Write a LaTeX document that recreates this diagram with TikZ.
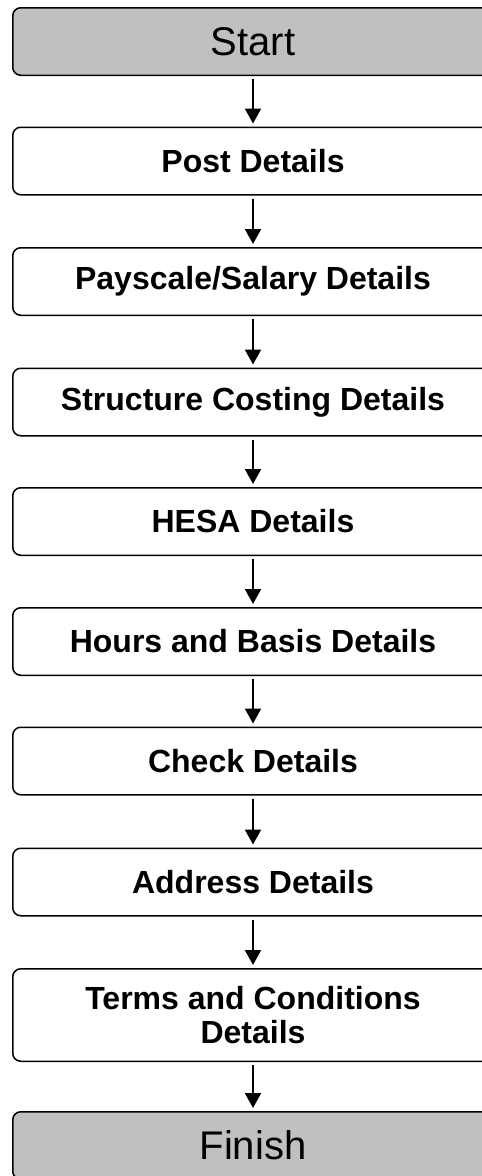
\documentclass[tikz,border=0pt]{standalone}
\usepackage{fontspec}
\setmainfont{Liberation Sans}
\usetikzlibrary{arrows.meta}

\definecolor{endgray}{HTML}{C0C0C0}

\tikzset{
  stagebox/.style={draw, line width=1.5pt, rounded corners=8pt,
    minimum width=480.5pt, minimum height=67.5pt, align=center,
    font=\fontsize{32}{34}\selectfont\bfseries},
  endbox/.style={stagebox, fill=endgray, font=\fontsize{40}{48}\selectfont},
  flowarrow/.style={-{Triangle[length=15pt,width=16pt]}, line width=2pt,
    shorten <=3pt, shorten >=3pt}
}

\begin{document}
\begin{tikzpicture}[x=1pt, y=-1pt]

\useasboundingbox (0,0) rectangle (482,1176);
\clip (0,0) rectangle (482,1176);

\node[endbox]   (start)     at (253,41.5)  {Start};
\node[stagebox] (post)      at (253,161)   {Post Details};
\node[stagebox] (payscale)  at (253,281.5) {Payscale/Salary Details};
\node[stagebox] (structure) at (253,402)   {Structure Costing Details};
\node[stagebox] (hesa)      at (253,521.5) {HESA Details};
\node[stagebox] (hours)     at (253,641.5) {Hours and Basis Details};
\node[stagebox] (check)     at (253,761)   {Check Details};
\node[stagebox] (address)   at (253,882)   {Address Details};
\node[stagebox, minimum height=92.5pt] (terms) at (253,1015)
  {Terms and Conditions\\Details};
\node[endbox]   (finish)    at (253,1145.5) {Finish};

\foreach \a/\b in {start/post, post/payscale, payscale/structure,
  structure/hesa, hesa/hours, hours/check, check/address,
  address/terms, terms/finish}
\draw[flowarrow] (\a.south) -- (\b.north);

\end{tikzpicture}
\end{document}
